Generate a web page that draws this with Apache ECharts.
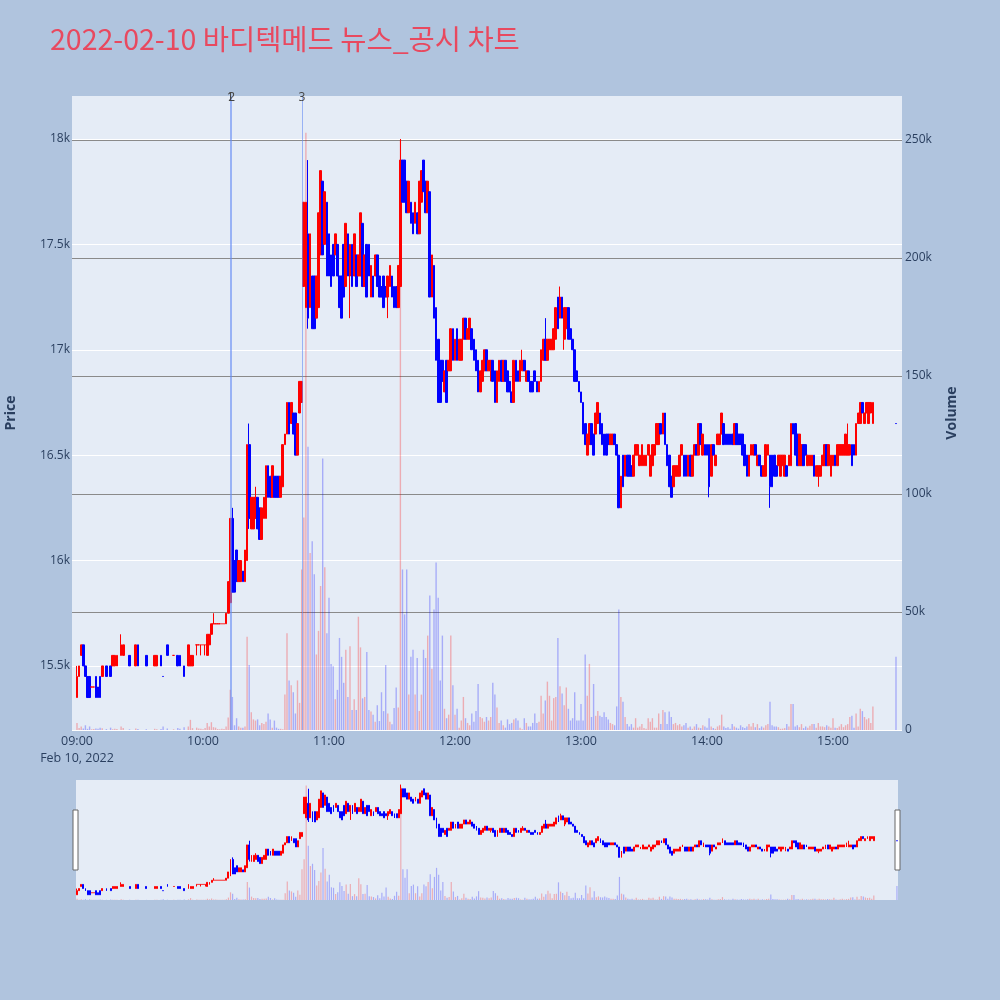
<!DOCTYPE html>
<html><head><meta charset="utf-8">
<script src="https://cdn.jsdelivr.net/npm/echarts@6/dist/echarts.min.js"></script>
<style>html,body{margin:0;padding:0;background:#B0C4DE}#c{width:1000px;height:1000px}</style>
</head><body><div id="c"></div>
<script>
// ---- data (index = minutes after 09:00) : [open, close, low?, high?] ----
const chartTitle = '2022-02-10 바디텍메드 뉴스_공시 차트';
const candles = [
[15350,15450,15350,15500],[15450,15500],[15550,15600],[15600,15500],[15500,15450],[15450,15350],[15450,15350],[15400,15400],[15400,15400],[15450,15350],
[15400,15350],[15450,15350],[15450,15500],null,[15500,15450],null,[15500,15450],[15500,15550],[15500,15550],[15500,15550],
null,[15550,15600,15550,15650],[15550,15600],null,null,[15550,15500],null,null,[15500,15600],[15600,15500],
null,null,null,[15550,15500],null,null,null,[15500,15550],[15500,15550],null,
[15550,15500],[15450,15450],null,[15600,15550],null,null,[15550,15550],null,[15550,15500],[15550,15500],
null,[15500,15450],null,[15500,15600],[15500,15550],[15500,15550],null,[15600,15600,15550,15600],[15600,15600],[15600,15600,15550,15600],
[15600,15600],[15600,15600,15550,15600],[15550,15650],[15600,15650],[15650,15700],[15700,15700,15700,15750],[15700,15700],[15700,15700],[15700,15700],[15700,15700],
[15700,15700],[15700,15750],[15750,15900],[15800,16200],[16200,15850,15850,16250],[16000,15850],[16050,15900],[15900,16000],[15900,16000],[15950,15900],
[15900,16050],[16000,16550],[16550,16200,16150,16650],[16150,16300],[16150,16300],[16200,16300,16200,16350],[16300,16150],[16250,16100],[16100,16250],[16200,16300],
[16200,16450],[16450,16300],[16400,16300],[16300,16450],[16400,16300],[16400,16300],[16400,16300],[16300,16400],[16350,16550],[16550,16600],
[16600,16750],[16750,16600],[16650,16750],[16700,16600],[16700,16500],[16500,16650],[16700,16850],[16750,16850],[17300,17700],[17200,17700],
[17550,17150,17100,17900],[17200,17550],[17350,17100],[17350,17100],[17150,17350],[17200,17650],[17450,17850],[17800,17450],[17500,17750],[17700,17350],
[17550,17350],[17450,17300],[17500,17350],[17450,17550],[17500,17350],[17350,17200],[17350,17150],[17500,17250],[17300,17600],[17550,17350],
[17350,17500,17150,17500],[17500,17300],[17350,17550],[17450,17300],[17350,17450],[17350,17650],[17600,17300],[17300,17450],[17500,17250],[17500,17350],
[17250,17400],[17350,17250],[17350,17450],[17450,17300],[17350,17250],[17300,17250],[17350,17200],[17300,17250],[17250,17350,17150,17350],[17300,17400],
[17350,17250],[17300,17200],[17300,17200],[17200,17400],[17300,17900,17300,18000],[17900,17700],[17900,17700],[17800,17650],[17650,17800],[17700,17600],
[17650,17550],[17600,17700],[17650,17550],[17550,17800],[17700,17850],[17900,17750],[17800,17650],[17650,17800],[17750,17250],[17250,17450],
[17400,17150],[17200,16950],[17050,16750],[16950,16750],[16950,16850],[16800,16900],[16950,16750],[16900,16950],[16900,17100],[17100,16950],
[16950,17050],[17100,16950],[16950,17050],[16950,17050],[17050,17150],[17150,17050],[17050,17100],[17050,17150],[17100,17000],[17050,16950],
[17000,16900],[16950,16800],[16800,16900],[16850,16950],[16900,17000],[17000,16900],[16900,16950],[16900,16950,16850,16950],[16950,16850],[16900,16750],
[16750,16900],[16850,16950],[16950,16850],[16850,16950],[16950,16850],[16900,16800],[16850,16800],[16800,16750],[16750,16950],[16950,16850],
[16900,16850],[16850,16950],[16900,16950,16900,17000],[16950,16900],[16850,16900],[16900,16850],[16850,16800],[16850,16800],[16900,16850],[16850,16800],
[16800,16850],[16850,17000],[16950,17050],[17050,16950,16950,17150],[16950,17050],[17000,17050],[17000,17050],[17000,17100],[17050,17200],[17250,17100],
[17150,17250,17150,17300],[17250,17150],[17050,17200,17000,17200],[17100,17200],[17200,17050],[17100,17050],[17050,17000],[17000,16850],[16900,16850],[16850,16800],
[16800,16750],[16750,16600],[16650,16550],[16500,16600],[16550,16650],[16650,16550],[16600,16500],[16600,16700],[16650,16750],[16700,16600],
[16650,16550],[16600,16500],[16600,16500],[16600,16550],[16550,16600],[16550,16600],[16600,16550],[16550,16500],[16500,16250],[16250,16400],
[16500,16350],[16400,16500],[16500,16400],[16500,16400],[16450,16400],[16400,16500],[16500,16550],[16500,16550],[16450,16500],[16450,16550],
[16450,16500],[16450,16500],[16500,16550],[16400,16500],[16450,16550],[16500,16550],[16550,16650],[16550,16650],[16650,16600],[16600,16700],
[16700,16550],[16550,16450],[16500,16350],[16400,16300],[16350,16450],[16400,16450],[16400,16450],[16400,16500],[16500,16550],[16500,16400],
[16500,16400],[16400,16500],[16500,16400],[16400,16500],[16500,16550],[16550,16500],[16500,16650],[16650,16550],[16500,16600],[16550,16500],
[16550,16500],[16550,16350,16300,16550],[16400,16550],[16550,16500],[16450,16500],[16550,16600],[16550,16600],[16600,16700],[16650,16550],[16600,16550],
[16600,16550],[16600,16550],[16600,16550],[16550,16650],[16650,16550],[16600,16550],[16600,16550],[16600,16500],[16550,16450],[16500,16400],
[16400,16500],[16500,16550],[16500,16550],[16550,16500],[16450,16500],[16500,16450],[16450,16400],[16400,16450],[16400,16550],[16500,16550],
[16500,16350,16250,16500],[16500,16350],[16500,16400],[16450,16400],[16450,16500],[16400,16500],[16450,16500],[16400,16500],[16450,16400],[16450,16500],
[16450,16650],[16650,16600],[16650,16500],[16600,16450],[16450,16600],[16450,16550],[16550,16450],[16550,16500],[16450,16500],[16450,16500],
[16450,16500],[16500,16400],[16400,16450],[16400,16450,16350,16450],[16400,16450],[16450,16500],[16450,16550],[16550,16450],[16450,16550],[16400,16500],
[16450,16500],[16500,16450],[16450,16550],[16500,16550],[16500,16550],[16500,16550],[16500,16600],[16500,16550,16500,16650],[16500,16550],[16550,16450],
[16550,16500],[16500,16650],[16650,16700],[16650,16750],[16750,16700],[16650,16700],[16700,16750],[16650,16750],[16700,16750],[16650,16750],
null,null,null,null,null,null,null,null,null,null,
[16650,16650]
];
const volumes = [
3000,800,1500,600,2000,500,1500,300,400,600,
500,1000,700,0,400,0,1000,300,500,400,
0,1500,800,0,0,300,0,0,600,400,
0,0,0,300,0,0,0,500,300,0,
400,1500,0,600,0,0,300,0,800,500,
0,1200,0,1500,4300,800,0,1000,600,500,
300,800,3000,1500,3300,1200,1000,400,300,500,
400,1500,5300,17000,14000,2000,5000,1500,1000,1000,
1500,39500,27500,7500,4500,4000,4500,2000,3000,2500,
3500,7000,4500,1000,4000,1000,500,500,300,15000,
41000,21000,19000,16000,7000,21000,11500,68000,90000,253000,
120000,75000,80000,66000,32000,42000,61000,115000,69000,41000,
56000,28000,27000,13000,17000,39000,31000,20000,34000,14000,
35500,8500,13000,8500,48000,35000,13400,14000,33000,8500,
7800,6500,3500,10500,3800,16000,8000,27500,7000,3500,
2400,9300,18000,9500,250000,68000,49000,68000,15000,31000,
34000,15000,30500,8000,15000,34000,30500,40000,57000,26000,
51000,71000,56000,21000,40000,9000,5000,6500,40000,19000,
6500,9000,1000,4000,14000,5000,3000,2000,7000,3500,
8000,19500,5500,5000,3500,5500,4000,5500,20000,15000,
9500,3000,4000,2000,1000,4500,2500,3000,4500,5000,
4000,1000,300,5000,3000,1500,1500,3000,7000,3000,
3500,14500,7000,12500,20500,14500,4000,13500,14000,39000,
18500,15500,10500,18000,9000,4000,5000,16000,4000,4000,
11000,4000,32000,14500,28000,5500,19500,6000,8000,6000,
5500,7500,5500,4500,3000,2500,2000,10000,51000,14000,
12000,5500,2500,1500,2500,1000,5000,1000,1500,2500,
800,500,5000,3500,5000,1000,1000,7000,2500,8500,
7500,2500,7800,5500,2500,3000,2000,2500,1500,2000,
3000,1000,1500,500,1500,2500,1000,800,2000,1500,
1000,5000,1500,800,500,1500,2000,6500,1500,800,
1200,500,2500,1500,1000,600,2000,1200,800,1500,
2500,1500,3000,1200,2500,800,1500,1000,2000,2500,
12000,2000,1500,1500,1200,500,600,800,2500,1500,
11000,11000,1500,2000,1200,2500,800,1500,1000,1800,
2500,2500,1000,3000,1500,1500,1200,2000,1500,1000,
5000,1000,800,1500,2500,1200,2000,2500,5500,6000,
1000,7000,1500,9000,8000,5500,4500,5000,3000,10000,
0,0,0,0,0,0,0,0,0,0,
31000
];
const newsMinutes = [73.0, 73.6, 107.1];
const newsLabels = ['1', '2', '3'];
const timeTickMinutes = [0, 60, 120, 180, 240, 300, 360];
const timeTickLabels = ['09:00', '10:00', '11:00', '12:00', '13:00', '14:00', '15:00'];
const dateLabel = 'Feb 10, 2022';
const priceTicks = [15500, 16000, 16500, 17000, 17500, 18000];
const priceTickLabels = ['15.5k', '16k', '16.5k', '17k', '17.5k', '18k'];
const volumeTicks = [0, 50000, 100000, 150000, 200000, 250000];
const volumeTickLabels = ['0', '50k', '100k', '150k', '200k', '250k'];

// ---- build series data ----
const UP = '#ff0000', DOWN = '#0000ff';
const UPV = 'rgba(255,0,0,0.27)', DOWNV = 'rgba(0,0,255,0.27)';
const candleData = [], volData = [];
let prevClose = null;
candles.forEach((c, m) => {
  if (!c) return;
  const o = c[0], cl = c[1];
  const lo = c.length > 2 ? c[2] : Math.min(o, cl);
  const hi = c.length > 3 ? c[3] : Math.max(o, cl);
  let up;
  if (cl > o) up = true; else if (cl < o) up = false;
  else up = prevClose == null ? true : prevClose <= cl;
  prevClose = cl;
  const col = up ? UP : DOWN;
  candleData.push({value: [m, o, cl, lo, hi], itemStyle: {color: col, color0: col, borderColor: col, borderColor0: col, borderColorDoji: col}});
  if (volumes[m]) volData.push({value: [m, volumes[m]], itemStyle: {color: up ? UPV : DOWNV}});
});

const font = '"Open Sans", "Noto Sans", sans-serif';
const axisColor = '#2a3f5f';
const chart = echarts.init(document.getElementById('c'), null, {renderer: 'canvas'});
chart.setOption({
  backgroundColor: '#B0C4DE',
  animation: false,
  title: {
    text: chartTitle, left: 50, top: 25, padding: 0,
    textStyle: {color: '#E8495F', fontSize: 28.5, fontWeight: 'normal', fontFamily: '"Noto Sans CJK KR", sans-serif'}
  },
  grid: [
    {left: 72, top: 96, width: 830, height: 634, show: true, backgroundColor: '#E5ECF6', borderWidth: 0, outerBoundsMode: 'none', containLabel: false},
    {left: 76, top: 780, width: 822, height: 120, show: true, backgroundColor: '#E5ECF6', borderWidth: 0, outerBoundsMode: 'none', containLabel: false}
  ],
  xAxis: [
    {
      type: 'value', gridIndex: 0, min: -2.38, max: 392.86,
      axisLine: {show: false}, axisTick: {show: false, customValues: timeTickMinutes},
      splitLine: {show: false},
      axisLabel: {
        customValues: timeTickMinutes, color: axisColor, fontSize: 12.5, fontFamily: font, margin: 3, lineHeight: 17,
        formatter: v => { const i = timeTickMinutes.indexOf(v); return i === 0 ? timeTickLabels[0] + '\n' + dateLabel : timeTickLabels[i]; }
      }
    },
    {type: 'value', gridIndex: 1, min: -0.5, max: 390.5, show: false}
  ],
  yAxis: [
    {
      type: 'value', gridIndex: 0, position: 'left', min: 15196, max: 18204,
      name: 'Price', nameLocation: 'middle', nameGap: 54,
      nameTextStyle: {fontWeight: 'bold', fontSize: 14, color: axisColor, fontFamily: font},
      axisLine: {show: false}, axisTick: {show: false, customValues: priceTicks},
      axisLabel: {customValues: priceTicks, color: axisColor, fontSize: 12, fontFamily: font, margin: 2,
        formatter: v => priceTickLabels[priceTicks.indexOf(v)]},
      splitLine: {show: true, lineStyle: {color: '#ffffff', width: 1}}
    },
    {
      type: 'value', gridIndex: 0, position: 'right', min: 0, max: 268600,
      name: 'Volume', nameLocation: 'middle', nameGap: 43,
      nameTextStyle: {fontWeight: 'bold', fontSize: 14, color: axisColor, fontFamily: font},
      axisLine: {show: false}, axisTick: {show: false, customValues: volumeTicks},
      axisLabel: {customValues: volumeTicks, color: axisColor, fontSize: 12, fontFamily: font, margin: 3,
        formatter: v => volumeTickLabels[volumeTicks.indexOf(v)]},
      splitLine: {show: true, lineStyle: {color: ['#ffffff', '#8a8a8a', '#8a8a8a', '#8a8a8a', '#8a8a8a', '#8a8a8a'], width: 1}}
    },
    {type: 'value', gridIndex: 1, min: 15225, max: 18110, show: false},
    {type: 'value', gridIndex: 1, min: 0, max: 265000, show: false}
  ],
  series: [
    {type: 'bar', xAxisIndex: 0, yAxisIndex: 1, data: volData, barWidth: 1.4, z: 1, silent: true},
    {
      type: 'candlestick', xAxisIndex: 0, yAxisIndex: 0, data: candleData, barWidth: 2.2, z: 3, silent: true,
      encode: {x: 0, y: [1, 2, 3, 4]},
      itemStyle: {borderWidth: 1},
      markLine: {
        silent: true, symbol: ['none', 'none'], animation: false,
        lineStyle: {color: 'rgba(100,140,245,0.6)', width: 1, type: 'solid'},
        label: {show: true, position: 'end', formatter: '{b}', color: '#444', fontSize: 12, fontFamily: font, distance: -8},
        emphasis: {disabled: true},
        data: newsMinutes.map((m, i) => ({name: newsLabels[i], xAxis: m}))
      }
    },
    {type: 'bar', xAxisIndex: 1, yAxisIndex: 3, data: volData, barWidth: 1.2, silent: true},
    {type: 'candlestick', xAxisIndex: 1, yAxisIndex: 2, data: candleData, barWidth: 1.4, silent: true,
      encode: {x: 0, y: [1, 2, 3, 4]}, itemStyle: {borderWidth: 1}}
  ],
  graphic: [
    {type: 'rect', shape: {x: 73, y: 810, width: 5, height: 60}, style: {fill: '#ffffff', stroke: '#666', lineWidth: 1}},
    {type: 'rect', shape: {x: 895, y: 810, width: 5, height: 60}, style: {fill: '#ffffff', stroke: '#666', lineWidth: 1}}
  ]
});
</script>
</body></html>
